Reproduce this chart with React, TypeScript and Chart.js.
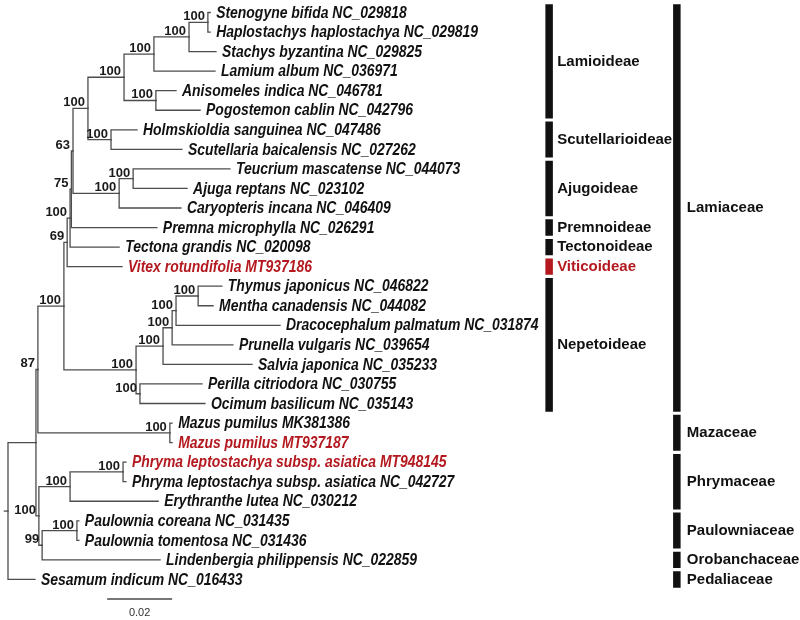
import React, { useEffect, useRef } from "react";
import { Chart, registerables } from "chart.js";

Chart.register(...registerables);

// ---- data ----
const leafNames = [
  "Stenogyne bifida NC_029818",
  "Haplostachys haplostachya NC_029819",
  "Stachys byzantina NC_029825",
  "Lamium album NC_036971",
  "Anisomeles indica NC_046781",
  "Pogostemon cablin NC_042796",
  "Holmskioldia sanguinea NC_047486",
  "Scutellaria baicalensis NC_027262",
  "Teucrium mascatense NC_044073",
  "Ajuga reptans NC_023102",
  "Caryopteris incana NC_046409",
  "Premna microphylla NC_026291",
  "Tectona grandis NC_020098",
  "Vitex rotundifolia MT937186",
  "Thymus japonicus NC_046822",
  "Mentha canadensis NC_044082",
  "Dracocephalum palmatum NC_031874",
  "Prunella vulgaris NC_039654",
  "Salvia japonica NC_035233",
  "Perilla citriodora NC_030755",
  "Ocimum basilicum NC_035143",
  "Mazus pumilus MK381386",
  "Mazus pumilus MT937187",
  "Phryma leptostachya subsp. asiatica MT948145",
  "Phryma leptostachya subsp. asiatica NC_042727",
  "Erythranthe lutea NC_030212",
  "Paulownia coreana NC_031435",
  "Paulownia tomentosa NC_031436",
  "Lindenbergia philippensis NC_022859",
  "Sesamum indicum NC_016433",
];

// cumulative distance from root (substitutions per site)
const leafDepths = [
  0.0622, 0.0622, 0.064, 0.0637, 0.0517, 0.0591, 0.0397, 0.0535, 0.0683, 0.0551,
  0.0532, 0.0458, 0.0342, 0.0351, 0.0658, 0.0631, 0.0837, 0.0692, 0.0751, 0.0597,
  0.0606, 0.0505, 0.0505, 0.0363, 0.0363, 0.0462, 0.0218, 0.0218, 0.0468, 0.0083,
];

const highlightLeaves = [13, 22, 23];

// internal nodes: children ("L" leaf index, "N" node index)
const nodeChildren: [string, string][] = [
  ["L0", "L1"], ["N0", "L2"], ["N1", "L3"], ["L4", "L5"], ["N2", "N3"],
  ["L6", "L7"], ["N4", "N5"], ["L8", "L9"], ["N7", "L10"], ["N6", "N8"],
  ["N9", "L11"], ["N10", "L12"], ["N11", "L13"], ["L14", "L15"], ["N13", "L16"],
  ["N14", "L17"], ["N15", "L18"], ["L19", "L20"], ["N16", "N17"], ["N12", "N18"],
  ["L21", "L22"], ["N19", "N20"], ["L23", "L24"], ["N22", "L25"], ["L26", "L27"],
  ["N24", "L28"], ["N23", "N25"], ["N21", "N26"], ["N27", "L29"],
];

const nodeDepths = [
  0.0615, 0.0557, 0.0449, 0.0455, 0.0357, 0.0317, 0.0246, 0.0385, 0.0342, 0.02,
  0.0195, 0.0191, 0.0182, 0.0585, 0.0517, 0.0505, 0.0477, 0.0406, 0.0394, 0.0172,
  0.0498, 0.0092, 0.0354, 0.0191, 0.0212, 0.0105, 0.0095, 0.0086, 0,
];

const nodeSupport: (number | null)[] = [
  100, 100, 100, 100, 100, 100, 100, 100, 100, 63,
  75, 100, 69, 100, 100, 100, 100, 100, 100, 100,
  100, 87, 100, 100, 100, 99, 100, null, null,
];

const subfamilyNames = ["Lamioideae", "Scutellarioideae", "Ajugoideae", "Premnoideae", "Tectonoideae", "Viticoideae", "Nepetoideae"];
const subfamilyFirst = [0, 6, 8, 11, 12, 13, 14];
const subfamilyLast = [5, 7, 10, 11, 12, 13, 20];
const subfamilyHighlight = [false, false, false, false, false, true, false];

const familyNames = ["Lamiaceae", "Mazaceae", "Phrymaceae", "Paulowniaceae", "Orobanchaceae", "Pedaliaceae"];
const familyFirst = [0, 21, 23, 26, 28, 29];
const familyLast = [20, 22, 25, 27, 28, 29];

const scaleBarValue = 0.02;
const scaleBarLabel = "0.02";

// ---- layout / style ----
const LINE = "#4d4d4d";
const RED = "#b3191f";
const FONT = "'Liberation Sans', Arial, sans-serif";
const X_MIN = -8 / 3250;
const X_MAX = 792 / 3250;
const Y_MIN = -12.5 / 19.55;
const Y_MAX = (620 - 12.5) / 19.55;
const SUBFAMILY_BAR_X = 0.1665;
const FAMILY_BAR_X = 0.2058;
const SCALE_BAR_X = 0.0305;
const SCALE_BAR_Y = 30.0;
const BAR_HALF = 0.42;

function buildTree() {
  const nodeY: number[] = [];
  const getY = (ref: string): number => {
    const idx = parseInt(ref.slice(1), 10);
    if (ref[0] === "L") return idx;
    if (nodeY[idx] === undefined) {
      const [a, b] = nodeChildren[idx];
      nodeY[idx] = (getY(a) + getY(b)) / 2;
    }
    return nodeY[idx];
  };
  const getX = (ref: string): number => {
    const idx = parseInt(ref.slice(1), 10);
    return ref[0] === "L" ? leafDepths[idx] : nodeDepths[idx];
  };
  nodeChildren.forEach((_, i) => getY("N" + i));
  const segments: { x: number; y: number }[][] = [];
  nodeChildren.forEach((kids, i) => {
    const nx = nodeDepths[i];
    const ny = nodeY[i];
    kids.forEach((k) => {
      const cy = getY(k);
      const cx = getX(k);
      segments.push([
        { x: nx, y: ny },
        { x: nx, y: cy },
        { x: cx, y: cy },
      ]);
    });
  });
  return { nodeY, segments };
}

export default function App() {
  const ref = useRef<HTMLCanvasElement | null>(null);

  useEffect(() => {
    if (!ref.current) return;
    const { nodeY, segments } = buildTree();
    const rootIdx = nodeChildren.length - 1;

    const datasets: any[] = segments.map((seg) => ({
      data: seg,
      showLine: true,
      borderColor: LINE,
      borderWidth: 1.3,
      pointRadius: 0,
      tension: 0,
      borderCapStyle: "square",
    }));
    datasets.push({
      data: [
        { x: nodeDepths[rootIdx] - 0.0013, y: nodeY[rootIdx] },
        { x: nodeDepths[rootIdx], y: nodeY[rootIdx] },
      ],
      showLine: true,
      borderColor: LINE,
      borderWidth: 1.3,
      pointRadius: 0,
    });
    subfamilyNames.forEach((_, i) => {
      datasets.push({
        data: [
          { x: SUBFAMILY_BAR_X, y: subfamilyFirst[i] - BAR_HALF },
          { x: SUBFAMILY_BAR_X, y: subfamilyLast[i] + BAR_HALF },
        ],
        showLine: true,
        borderColor: subfamilyHighlight[i] ? RED : "#111",
        borderWidth: 7.5,
        borderCapStyle: "butt",
        pointRadius: 0,
      });
    });
    familyNames.forEach((_, i) => {
      datasets.push({
        data: [
          { x: FAMILY_BAR_X, y: familyFirst[i] - BAR_HALF },
          { x: FAMILY_BAR_X, y: familyLast[i] + BAR_HALF },
        ],
        showLine: true,
        borderColor: "#111",
        borderWidth: 7.5,
        borderCapStyle: "butt",
        pointRadius: 0,
      });
    });
    datasets.push({
      data: [
        { x: SCALE_BAR_X, y: SCALE_BAR_Y },
        { x: SCALE_BAR_X + scaleBarValue, y: SCALE_BAR_Y },
      ],
      showLine: true,
      borderColor: "#777",
      borderWidth: 2,
      borderCapStyle: "butt",
      pointRadius: 0,
    });

    const textPlugin = {
      id: "treeText",
      afterDatasetsDraw(chart: any) {
        const ctx = chart.ctx as CanvasRenderingContext2D;
        const xs = chart.scales.x;
        const ys = chart.scales.y;
        ctx.save();
        // leaf labels
        ctx.textBaseline = "middle";
        ctx.textAlign = "left";
        ctx.font = `italic bold 17px ${FONT}`;
        leafNames.forEach((name, i) => {
          const px = xs.getPixelForValue(leafDepths[i]) + 6;
          const py = ys.getPixelForValue(i) + 0.5;
          ctx.fillStyle = highlightLeaves.includes(i) ? RED : "#111";
          ctx.save();
          ctx.translate(px, py);
          ctx.scale(0.82, 1);
          ctx.fillText(name, 0, 0);
          ctx.restore();
        });
        // support values
        ctx.font = `bold 13px ${FONT}`;
        ctx.fillStyle = "#1a1a1a";
        ctx.textAlign = "right";
        ctx.textBaseline = "alphabetic";
        nodeSupport.forEach((s, i) => {
          if (s === null) return;
          const px = xs.getPixelForValue(nodeDepths[i]) - 3;
          const py = ys.getPixelForValue(nodeY[i]) - 2;
          ctx.fillText(String(s), px, py);
        });
        // clade labels
        ctx.font = `bold 15px ${FONT}`;
        ctx.textAlign = "left";
        ctx.textBaseline = "middle";
        subfamilyNames.forEach((n, i) => {
          const px = xs.getPixelForValue(SUBFAMILY_BAR_X) + 8;
          const py = ys.getPixelForValue((subfamilyFirst[i] + subfamilyLast[i]) / 2);
          ctx.fillStyle = subfamilyHighlight[i] ? RED : "#111";
          ctx.fillText(n, px, py);
        });
        familyNames.forEach((n, i) => {
          const px = xs.getPixelForValue(FAMILY_BAR_X) + 10;
          const py = ys.getPixelForValue((familyFirst[i] + familyLast[i]) / 2);
          ctx.fillStyle = "#111";
          ctx.fillText(n, px, py);
        });
        // scale bar label
        ctx.font = `11px ${FONT}`;
        ctx.fillStyle = "#333";
        ctx.textAlign = "center";
        ctx.textBaseline = "middle";
        ctx.fillText(
          scaleBarLabel,
          xs.getPixelForValue(SCALE_BAR_X + scaleBarValue / 2),
          ys.getPixelForValue(SCALE_BAR_Y) + 14
        );
        ctx.restore();
      },
    };

    const chart = new Chart(ref.current, {
      type: "scatter",
      data: { datasets },
      options: {
        animation: false,
        responsive: true,
        maintainAspectRatio: false,
        layout: { padding: 0 },
        plugins: { legend: { display: false }, tooltip: { enabled: false } },
        scales: {
          x: { type: "linear", min: X_MIN, max: X_MAX, display: false },
          y: { type: "linear", min: Y_MIN, max: Y_MAX, reverse: true, display: false },
        },
        elements: { line: { tension: 0 } },
      },
      plugins: [textPlugin],
    });
    return () => chart.destroy();
  }, []);

  return (
    <div style={{ position: "fixed", left: 0, top: 0, width: 800, height: 620, background: "#fff" }}>
      <canvas ref={ref} />
    </div>
  );
}
